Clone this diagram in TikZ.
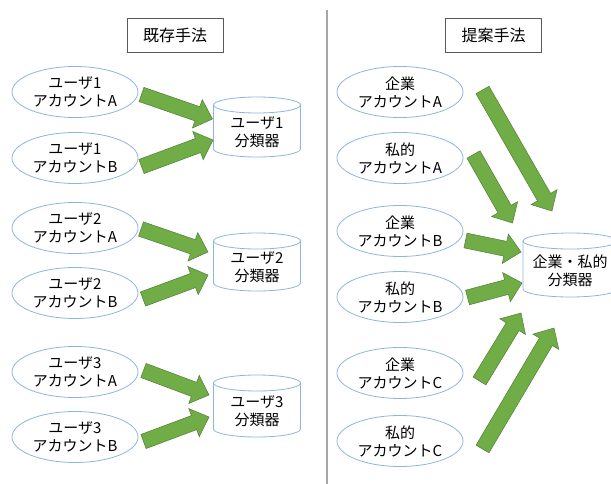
\documentclass[tikz,border=0pt]{standalone}
\usepackage{fontspec}
\setmainfont{Noto Sans CJK JP}
\usetikzlibrary{shapes.geometric,calc}
\definecolor{ellblue}{HTML}{8EB4E3}
\definecolor{agreen}{HTML}{70AD47}
\definecolor{agreendark}{HTML}{507E32}
\definecolor{boxgray}{HTML}{595959}
\definecolor{divgray}{HTML}{A6A6A6}
\tikzset{
  acct/.style={ellipse, draw=ellblue, line width=0.8pt, minimum width=126pt, minimum height=51pt, inner sep=0pt, align=center, font=\fontsize{15}{18}\selectfont},
  header/.style={rectangle, draw=boxgray, line width=0.9pt, minimum width=96pt, minimum height=34pt, inner sep=0pt, font=\fontsize{16}{19}\selectfont},
  cyltext/.style={align=center, inner sep=0pt, font=\fontsize{15}{18}\selectfont},
  cylline/.style={draw=ellblue, line width=0.8pt},
  greenarrow/.style={fill=agreen, draw=agreendark, line width=0.5pt, line join=miter},
  divider/.style={draw=divgray, line width=1.5pt},
}
% block arrow from tail coordinate #1 to tip coordinate #2
\newcommand\blockarrow[2]{%
  \coordinate (#1b) at ($(#2)!16pt!(#1)$);
  \filldraw[greenarrow] ($(#1)!7.5pt!-90:(#2)$) -- ($(#1b)!7.5pt!90:(#1)$) -- ($(#1b)!15pt!90:(#1)$) -- (#2)
    -- ($(#1b)!15pt!-90:(#1)$) -- ($(#1b)!7.5pt!-90:(#1)$) -- ($(#1)!7.5pt!90:(#2)$) -- cycle;
}
% cylinder: name, cx, cy, half width, half height, text offset, text
\newcommand\cylnode[7]{%
  \coordinate (#1c) at (#2,#3);
  \node[cyltext] (#1) at (#2,#3+#6) {#7};
  \draw[cylline] ($(#1c)+(0,-#5+8)$) ellipse [x radius=#4pt, y radius=8pt];
  \draw[cylline] ($(#1c)+(-#4,-#5+8)$) -- ($(#1c)+(-#4,#5-8)$)
    arc[start angle=180, end angle=360, x radius=#4pt, y radius=8pt] -- ($(#1c)+(#4,-#5+8)$);
}
\begin{document}
\begin{tikzpicture}[x=1pt, y=-1pt]
\clip (0,0) rectangle (611,484);
\fill[white] (0,0) rectangle (611,484);

% divider
\coordinate (dtop) at (327,10);
\coordinate (dbot) at (327,484);
\draw[divider] (dtop) -- (dbot);

% headers
\node[header] (hl) at (175,35) {既存手法};
\node[header] (hr) at (493.5,35) {提案手法};

% left ellipses
\node[acct] (u1a) at (75,92)  {ユーザ1\\アカウントA};
\node[acct] (u1b) at (75,158) {ユーザ1\\アカウントB};
\node[acct] (u2a) at (75,228) {ユーザ2\\アカウントA};
\node[acct] (u2b) at (75,293) {ユーザ2\\アカウントB};
\node[acct] (u3a) at (75,372) {ユーザ3\\アカウントA};
\node[acct] (u3b) at (75,437) {ユーザ3\\アカウントB};

% left cylinders
\cylnode{c1}{257}{127}{43.5}{30}{5}{ユーザ1\\分類器}
\cylnode{c2}{257}{262}{43.5}{29}{5}{ユーザ2\\分類器}
\cylnode{c3}{257}{406}{43.5}{31}{5}{ユーザ3\\分類器}

% right ellipses
\node[acct] (ca) at (400,92)  {企業\\アカウントA};
\node[acct] (pa) at (400,158) {私的\\アカウントA};
\node[acct] (cb) at (400,231) {企業\\アカウントB};
\node[acct] (pb) at (400,297) {私的\\アカウントB};
\node[acct] (cc) at (400,373) {企業\\アカウントC};
\node[acct] (pc) at (400,441) {私的\\アカウントC};

% right cylinder
\cylnode{cr}{570}{265}{47}{32}{6}{企業・私的\\分類器}

% arrow coordinates (left)
\coordinate (l1t) at (141.5,94.5);  \coordinate (l1h) at (212.5,119);
\coordinate (l2t) at (141.5,166.5); \coordinate (l2h) at (213,140);
\coordinate (l3t) at (141,229);     \coordinate (l3h) at (208,252);
\coordinate (l4t) at (143,299);     \coordinate (l4h) at (208,275);
\coordinate (l5t) at (143.5,370.5); \coordinate (l5h) at (209,395);
\coordinate (l6t) at (143.5,441.5); \coordinate (l6h) at (209,417);
% arrow coordinates (right)
\coordinate (r1t) at (482.5,90);    \coordinate (r1h) at (552,211);
\coordinate (r2t) at (473.5,154.5); \coordinate (r2h) at (512.5,223);
\coordinate (r3t) at (465.5,240.5); \coordinate (r3h) at (521,252);
\coordinate (r4t) at (467.5,297.5); \coordinate (r4h) at (522,283);
\coordinate (r5t) at (479.5,381);   \coordinate (r5h) at (521,313);
\coordinate (r6t) at (482.5,449);   \coordinate (r6h) at (554,328);

\blockarrow{l1t}{l1h}
\blockarrow{l2t}{l2h}
\blockarrow{l3t}{l3h}
\blockarrow{l4t}{l4h}
\blockarrow{l5t}{l5h}
\blockarrow{l6t}{l6h}
\blockarrow{r1t}{r1h}
\blockarrow{r2t}{r2h}
\blockarrow{r3t}{r3h}
\blockarrow{r4t}{r4h}
\blockarrow{r5t}{r5h}
\blockarrow{r6t}{r6h}
\end{tikzpicture}
\end{document}
